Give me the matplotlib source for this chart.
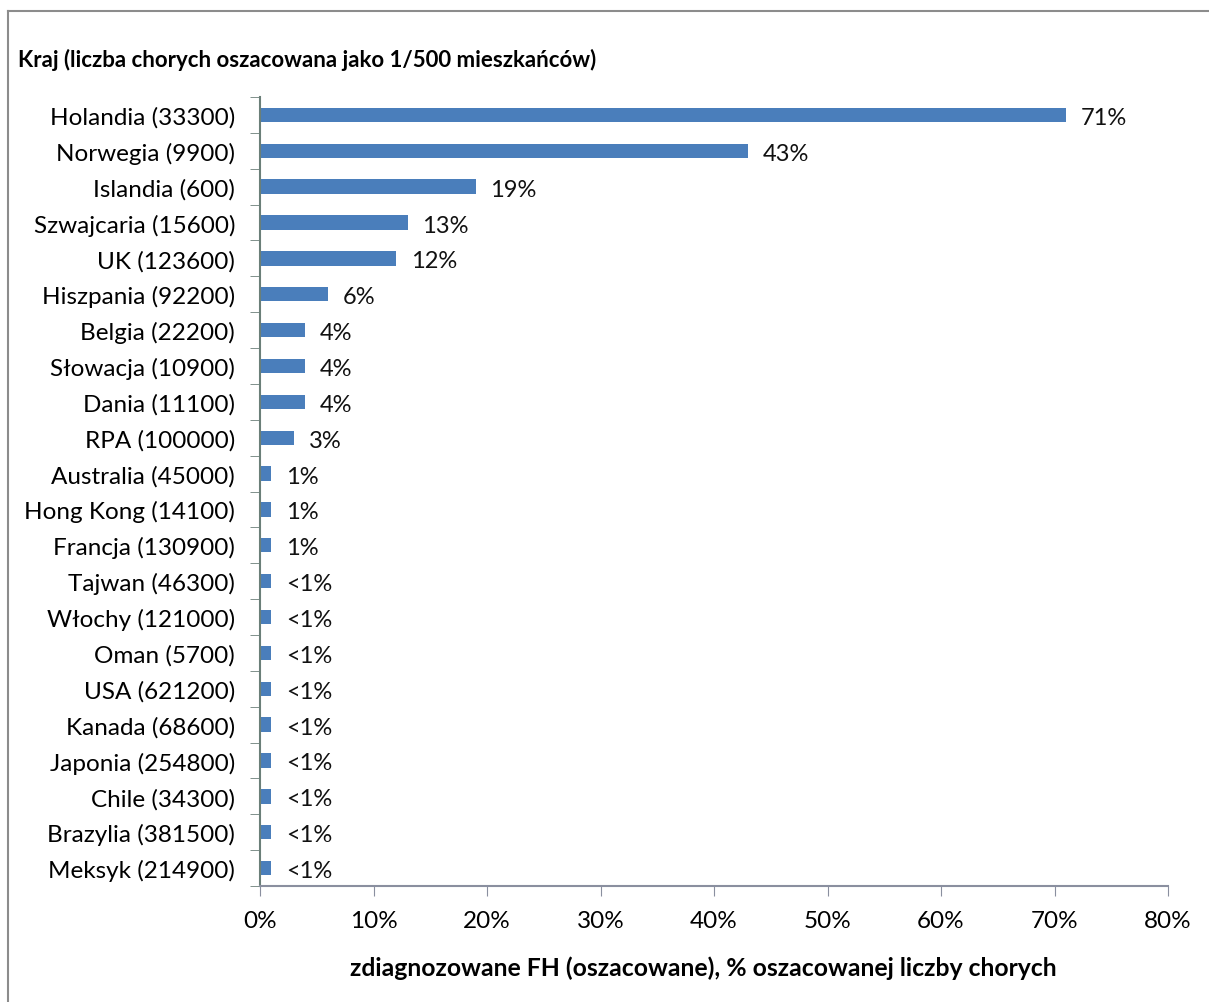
import matplotlib.pyplot as plt
from matplotlib.lines import Line2D

plt.rcParams['font.family'] = ['Lato', 'DejaVu Sans']

countries = ['Holandia (33300)', 'Norwegia (9900)', 'Islandia (600)', 'Szwajcaria (15600)',
             'UK (123600)', 'Hiszpania (92200)', 'Belgia (22200)', 'Słowacja (10900)',
             'Dania (11100)', 'RPA (100000)', 'Australia (45000)', 'Hong Kong (14100)',
             'Francja (130900)', 'Tajwan (46300)', 'Włochy (121000)', 'Oman (5700)',
             'USA (621200)', 'Kanada (68600)', 'Japonia (254800)', 'Chile (34300)',
             'Brazylia (381500)', 'Meksyk (214900)']
diagnosed = [71, 43, 19, 13, 12, 6, 4, 4, 4, 3, 1, 1, 1,
             0.95, 0.95, 0.95, 0.95, 0.95, 0.95, 0.95, 0.95, 0.95]
labels = ['71%', '43%', '19%', '13%', '12%', '6%', '4%', '4%', '4%', '3%', '1%', '1%', '1%',
          '<1%', '<1%', '<1%', '<1%', '<1%', '<1%', '<1%', '<1%', '<1%']
xticks = [0, 10, 20, 30, 40, 50, 60, 70, 80]

W, H = 1209, 1003
fig = plt.figure(figsize=(W / 100, H / 100), dpi=100)
ax = fig.add_axes([260 / W, 1 - 887 / H, 908 / W, 789 / H])

ypos = list(range(len(countries)))
ax.barh(ypos, diagnosed, height=0.4, color='#4a7ebb', edgecolor='none')
for y, v, lab in zip(ypos, diagnosed, labels):
    ax.text(max(v, 1) + 1.3, y + 0.07, lab, va='center', ha='left', fontsize=17, color='#111111')

ax.set_ylim(len(countries) - 0.5, -0.5)
ax.set_xlim(0, 80)
ax.set_yticks(ypos)
ax.set_yticklabels(countries, fontsize=17.5)
ax.set_yticks([y + 0.5 for y in range(-1, len(countries))], minor=True)
ax.tick_params(axis='y', which='major', length=0, pad=18)
ax.tick_params(axis='y', which='minor', length=7, color='#6b7f78', direction='out')
ax.set_xticks(xticks)
ax.set_xticklabels([f'{t}%' for t in xticks], fontsize=17.5)
ax.tick_params(axis='x', length=7, color='#8a8f9f', pad=10)

for s in ['top', 'right']:
    ax.spines[s].set_visible(False)
ax.spines['left'].set_color('#6b7f78')
ax.spines['left'].set_linewidth(1.5)
ax.spines['bottom'].set_color('#8a8f9f')
ax.spines['bottom'].set_linewidth(1.5)

fig.text(703 / W, 1 - 968 / H, 'zdiagnozowane FH (oszacowane), % oszacowanej liczby chorych',
         fontsize=17.8, fontweight='bold', va='center', ha='center')
fig.text(18 / W, 1 - 60 / H, 'Kraj (liczba chorych oszacowana jako 1/500 mieszkańców)',
         fontsize=16, fontweight='bold', va='center', ha='left')

# outer chart frame (top and left edges)
fig.add_artist(Line2D([8 / W, 1], [1 - 12 / H, 1 - 12 / H], color='#8c8c8c', lw=1.5))
fig.add_artist(Line2D([8 / W, 8 / W], [0, 1 - 12 / H], color='#8c8c8c', lw=1.5))

fig.savefig('out.png', dpi=100)
